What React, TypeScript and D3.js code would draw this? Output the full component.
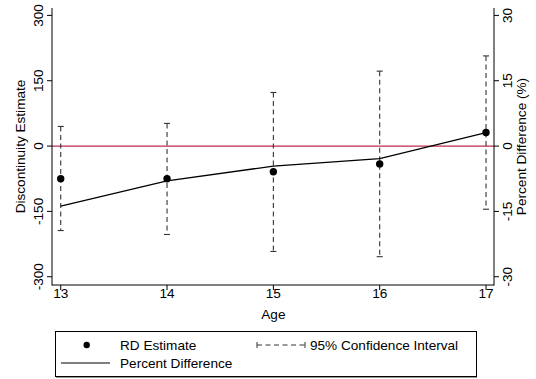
import React from "react";
import * as d3 from "d3";

// Age at which the discontinuity is estimated
const ages = [13, 14, 15, 16, 17];
// Regression-discontinuity point estimates (left axis)
const rdEstimate = [-75, -75, -59, -41, 31];
// 95% confidence interval bounds (left axis)
const ciLower = [-194, -203, -242, -254, -145];
const ciUpper = [45, 52, 123, 172, 207];
// Percent difference (right axis)
const pctDiff = [-13.8, -8.0, -4.6, -2.9, 3.1];

const leftTicks = [-300, -150, 0, 150, 300];
const rightTicks = [-30, -15, 0, 15, 30];

const W = 536;
const H = 379;
const FONT = "'Liberation Sans', Arial, Helvetica, sans-serif";

export default function App() {
  const left = 52;
  const right = 494;
  const top = 8;
  const bottom = 285;

  const x = d3.scaleLinear().domain([12.918, 17.075]).range([left, right]);
  const y = d3.scaleLinear().domain([-319, 317]).range([bottom, top]);
  const y2 = d3.scaleLinear().domain([-31.9, 31.7]).range([bottom, top]);

  const pctLine = d3
    .line<number>()
    .x((_, i) => x(ages[i]))
    .y((d) => y2(d));

  const dash = "5,3.5";
  const ciColor = "#333";
  const fs = 13.6;

  return (
    <svg width={W} height={H} style={{ position: "absolute", left: 0, top: 0 }} fontFamily={FONT}>
      <rect x={0} y={0} width={W} height={H} fill="#fff" />

      {/* zero reference line */}
      <line x1={left} x2={right} y1={y(0)} y2={y(0)} stroke="#bf2a52" strokeWidth={1.3} />

      {/* confidence intervals */}
      {ages.map((a, i) => (
        <g key={"ci" + a} stroke={ciColor} strokeWidth={1.1}>
          <line x1={x(a)} x2={x(a)} y1={y(ciUpper[i])} y2={y(ciLower[i])} strokeDasharray={dash} />
          <line x1={x(a) - 3} x2={x(a) + 3} y1={y(ciUpper[i])} y2={y(ciUpper[i])} />
          <line x1={x(a) - 3} x2={x(a) + 3} y1={y(ciLower[i])} y2={y(ciLower[i])} />
        </g>
      ))}

      {/* percent difference line */}
      <path d={pctLine(pctDiff) || ""} fill="none" stroke="#000" strokeWidth={1.3} />

      {/* RD estimates */}
      {ages.map((a, i) => (
        <circle key={"pt" + a} cx={x(a)} cy={y(rdEstimate[i])} r={3.7} fill="#000" />
      ))}

      {/* axes */}
      <g stroke="#000" strokeWidth={1}>
        <line x1={left} x2={left} y1={top} y2={bottom + 0.5} />
        <line x1={right} x2={right} y1={top} y2={bottom + 0.5} />
        <line x1={left} x2={right} y1={bottom} y2={bottom} />
        {leftTicks.map((t) => (
          <line key={"lt" + t} x1={left - 5} x2={left} y1={y(t)} y2={y(t)} />
        ))}
        {rightTicks.map((t) => (
          <line key={"rt" + t} x1={right} x2={right + 5} y1={y2(t)} y2={y2(t)} />
        ))}
        {ages.map((a) => (
          <line key={"xt" + a} x1={x(a)} x2={x(a)} y1={bottom} y2={bottom + 5} />
        ))}
      </g>

      {/* tick labels */}
      <g fontSize={fs} fill="#000">
        {leftTicks.map((t) => (
          <text
            key={"ll" + t}
            transform={`translate(${left - 9},${y(t)}) rotate(-90)`}
            textAnchor="middle"
          >
            {t}
          </text>
        ))}
        {rightTicks.map((t) => (
          <text
            key={"rl" + t}
            transform={`translate(${right + 18},${y2(t)}) rotate(-90)`}
            textAnchor="middle"
          >
            {t}
          </text>
        ))}
        {ages.map((a) => (
          <text key={"xl" + a} x={x(a)} y={298} textAnchor="middle">
            {a}
          </text>
        ))}
      </g>

      {/* axis titles */}
      <g fontSize={fs} fill="#000">
        <text transform={`translate(25,${(top + bottom) / 2}) rotate(-90)`} textAnchor="middle">
          Discontinuity Estimate
        </text>
        <text transform={`translate(526,${(top + bottom) / 2}) rotate(-90)`} textAnchor="middle">
          Percent Difference (%)
        </text>
        <text x={x(15)} y={319} textAnchor="middle">
          Age
        </text>
      </g>

      {/* legend */}
      <g>
        <rect x={55.5} y={331.5} width={421} height={45} fill="#fff" stroke="#000" strokeWidth={1} />
        <line x1={56} x2={477} y1={377.5} y2={377.5} stroke="#999" strokeWidth={1} />
        <circle cx={86.7} cy={345} r={3.2} fill="#000" />
        <text x={120} y={350} fontSize={fs}>RD Estimate</text>
        <g stroke={ciColor} strokeWidth={1}>
          <line x1={257} x2={305} y1={345} y2={345} strokeDasharray={dash} />
          <line x1={257} x2={257} y1={342} y2={348} />
          <line x1={305} x2={305} y1={342} y2={348} />
        </g>
        <text x={310} y={350} fontSize={fs}>95% Confidence Interval</text>
        <line x1={61} x2={110} y1={363} y2={363} stroke="#000" strokeWidth={1.2} />
        <text x={120} y={368} fontSize={fs}>Percent Difference</text>
      </g>
    </svg>
  );
}
